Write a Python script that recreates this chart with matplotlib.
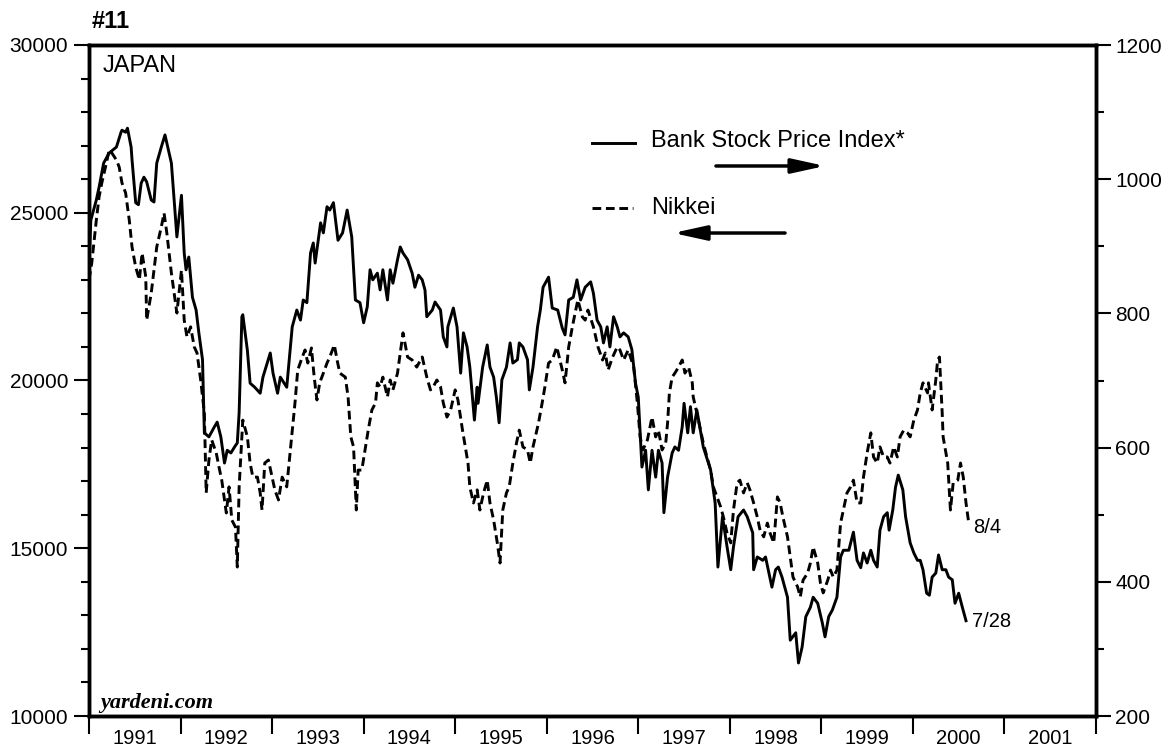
import numpy as np
import matplotlib
matplotlib.use('Agg')
from matplotlib import pyplot as plt
from matplotlib.ticker import MultipleLocator

plt.rcParams['font.family'] = ['Liberation Sans', 'DejaVu Sans']

# Bank Stock Price Index (right axis), decimal years
bank_t = [1991.00, 1991.02, 1991.08, 1991.11, 1991.16, 1991.22, 1991.30, 1991.35, 1991.36, 1991.40, 1991.42, 1991.46, 1991.47, 1991.51,
          1991.54, 1991.57, 1991.60, 1991.63, 1991.68, 1991.71, 1991.74, 1991.79, 1991.83, 1991.85, 1991.90, 1991.93, 1991.96,
          1992.01, 1992.04, 1992.06, 1992.09, 1992.13, 1992.17, 1992.20, 1992.24, 1992.26, 1992.31, 1992.37, 1992.40, 1992.44, 1992.48,
          1992.51, 1992.55, 1992.59, 1992.62, 1992.64, 1992.67, 1992.68, 1992.73, 1992.76, 1992.81, 1992.87, 1992.90, 1992.98,
          1993.01, 1993.06, 1993.09, 1993.16, 1993.22, 1993.27, 1993.31, 1993.34, 1993.38, 1993.42, 1993.45, 1993.47, 1993.53, 1993.56,
          1993.60, 1993.63, 1993.67, 1993.72, 1993.77, 1993.82, 1993.87, 1993.91, 1993.96, 1994.00,
          1994.04, 1994.07, 1994.10, 1994.15, 1994.18, 1994.21, 1994.26, 1994.29, 1994.32, 1994.37, 1994.40, 1994.43, 1994.48, 1994.53,
          1994.56, 1994.60, 1994.64, 1994.67, 1994.69, 1994.75, 1994.78, 1994.84, 1994.87, 1994.91, 1994.92, 1994.98,
          1995.02, 1995.06, 1995.09, 1995.13, 1995.16, 1995.21, 1995.24, 1995.25, 1995.30, 1995.35, 1995.38, 1995.42, 1995.45, 1995.48,
          1995.51, 1995.56, 1995.60, 1995.63, 1995.68, 1995.70, 1995.74, 1995.79, 1995.81, 1995.85, 1995.90, 1995.93, 1995.96,
          1996.02, 1996.06, 1996.12, 1996.17, 1996.20, 1996.24, 1996.29, 1996.33, 1996.37, 1996.42, 1996.48, 1996.51, 1996.55, 1996.59,
          1996.62, 1996.66, 1996.69, 1996.73, 1996.77, 1996.80, 1996.84, 1996.89, 1996.93, 1996.97,
          1997.00, 1997.04, 1997.08, 1997.11, 1997.15, 1997.19, 1997.22, 1997.26, 1997.28, 1997.32, 1997.37, 1997.40, 1997.44, 1997.48,
          1997.50, 1997.54, 1997.57, 1997.60, 1997.64, 1997.71, 1997.79, 1997.84, 1997.87, 1997.92, 1997.97,
          1998.01, 1998.04, 1998.09, 1998.15, 1998.19, 1998.25, 1998.26, 1998.30, 1998.36, 1998.39, 1998.42, 1998.46, 1998.50, 1998.53,
          1998.57, 1998.63, 1998.66, 1998.72, 1998.75, 1998.79, 1998.83, 1998.88, 1998.91, 1998.96,
          1999.01, 1999.04, 1999.08, 1999.12, 1999.17, 1999.21, 1999.24, 1999.30, 1999.35, 1999.39, 1999.43, 1999.46, 1999.50, 1999.54,
          1999.57, 1999.61, 1999.64, 1999.68, 1999.72, 1999.74, 1999.78, 1999.81, 1999.84, 1999.89, 1999.92, 1999.97,
          2000.01, 2000.05, 2000.08, 2000.11, 2000.15, 2000.18, 2000.21, 2000.25, 2000.28, 2000.32, 2000.36, 2000.39, 2000.43, 2000.46,
          2000.50, 2000.54, 2000.58]
bank = [871, 939, 969, 988, 1024, 1039, 1048, 1070, 1073, 1070, 1076, 1048, 1029, 965,
        962, 994, 1003, 996, 969, 966, 1024, 1048, 1066, 1054, 1024, 969, 914,
        976, 890, 865, 884, 824, 805, 771, 731, 622, 616, 631, 638, 616, 577,
        596, 592, 601, 607, 652, 795, 798, 745, 696, 690, 681, 705, 741,
        711, 681, 705, 690, 780, 805, 790, 820, 816, 890, 905, 875, 935, 920,
        959, 954, 965, 909, 920, 954, 914, 820, 816, 786,
        810, 865, 850, 860, 835, 865, 820, 865, 845, 880, 899, 890, 880, 860,
        839, 857, 850, 835, 795, 805, 817, 805, 765, 750, 780, 808,
        780, 711, 771, 750, 720, 641, 690, 666, 720, 753, 720, 705, 675, 637,
        701, 720, 756, 726, 731, 756, 750, 731, 686, 720, 780, 805, 839,
        854, 808, 805, 778, 768, 820, 824, 850, 820, 839, 847, 830, 790, 780,
        756, 780, 750, 795, 780, 765, 771, 765, 746, 696,
        675, 571, 596, 537, 596, 556, 596, 577, 503, 556, 592, 601, 596, 631,
        666, 622, 661, 622, 656, 601, 567, 517, 422, 497, 452,
        418, 452, 497, 507, 497, 473, 418, 437, 432, 437, 418, 392, 418, 422,
        407, 377, 313, 324, 279, 303, 348, 362, 377, 368,
        339, 318, 348, 358, 377, 437, 447, 447, 474, 432, 421, 443, 428, 447,
        432, 422, 477, 497, 503, 477, 507, 541, 559, 537, 497, 458,
        443, 432, 432, 418, 383, 380, 407, 413, 440, 418, 418, 407, 403, 368,
        383, 362, 342]

# Nikkei (left axis)
nikkei_t = [1991.00, 1991.03, 1991.08, 1991.11, 1991.14, 1991.19, 1991.22, 1991.25, 1991.30, 1991.33, 1991.36, 1991.40, 1991.44, 1991.47,
            1991.51, 1991.55, 1991.58, 1991.62, 1991.63, 1991.68, 1991.71, 1991.74, 1991.79, 1991.82, 1991.85, 1991.90, 1991.93, 1991.96,
            1992.01, 1992.04, 1992.07, 1992.11, 1992.15, 1992.18, 1992.22, 1992.26, 1992.28, 1992.31, 1992.34, 1992.39, 1992.42, 1992.45,
            1992.50, 1992.53, 1992.56, 1992.60, 1992.62, 1992.64, 1992.68, 1992.73, 1992.76, 1992.79, 1992.84, 1992.87, 1992.89, 1992.92, 1992.96,
            1993.00, 1993.03, 1993.07, 1993.11, 1993.16, 1993.20, 1993.23, 1993.25, 1993.28, 1993.33, 1993.36, 1993.39, 1993.43, 1993.46,
            1993.49, 1993.52, 1993.56, 1993.60, 1993.63, 1993.68, 1993.71, 1993.74, 1993.80, 1993.83, 1993.86, 1993.89, 1993.92, 1993.94, 1993.98,
            1994.02, 1994.05, 1994.09, 1994.13, 1994.15, 1994.18, 1994.21, 1994.26, 1994.29, 1994.32, 1994.37, 1994.40, 1994.43, 1994.48,
            1994.53, 1994.58, 1994.64, 1994.69, 1994.73, 1994.76, 1994.80, 1994.84, 1994.87, 1994.91, 1994.95,
            1995.00, 1995.03, 1995.08, 1995.11, 1995.14, 1995.16, 1995.20, 1995.24, 1995.27, 1995.31, 1995.35, 1995.38, 1995.42, 1995.46,
            1995.49, 1995.52, 1995.56, 1995.59, 1995.63, 1995.67, 1995.70, 1995.74, 1995.79, 1995.82, 1995.85, 1995.91, 1995.95, 1995.98,
            1996.02, 1996.06, 1996.11, 1996.17, 1996.20, 1996.24, 1996.28, 1996.31, 1996.34, 1996.39, 1996.42, 1996.45, 1996.51, 1996.56,
            1996.61, 1996.64, 1996.67, 1996.72, 1996.77, 1996.80, 1996.84, 1996.89, 1996.95, 1996.99,
            1997.02, 1997.05, 1997.10, 1997.15, 1997.19, 1997.22, 1997.26, 1997.30, 1997.32, 1997.34, 1997.37, 1997.40, 1997.44, 1997.48,
            1997.51, 1997.55, 1997.59, 1997.60, 1997.64, 1997.68, 1997.71, 1997.75, 1997.79, 1997.82, 1997.86, 1997.90, 1997.93, 1997.97,
            1998.01, 1998.04, 1998.08, 1998.11, 1998.15, 1998.19, 1998.22, 1998.26, 1998.30, 1998.33, 1998.37, 1998.41, 1998.44, 1998.48,
            1998.52, 1998.55, 1998.58, 1998.63, 1998.66, 1998.69, 1998.74, 1998.77, 1998.80, 1998.85, 1998.88, 1998.91, 1998.96, 1998.99,
            1999.02, 1999.07, 1999.10, 1999.13, 1999.17, 1999.21, 1999.24, 1999.28, 1999.32, 1999.35, 1999.39, 1999.43, 1999.46, 1999.50,
            1999.54, 1999.57, 1999.61, 1999.64, 1999.68, 1999.72, 1999.75, 1999.79, 1999.83, 1999.86, 1999.90, 1999.94, 1999.97,
            2000.01, 2000.05, 2000.08, 2000.11, 2000.16, 2000.17, 2000.21, 2000.25, 2000.27, 2000.29, 2000.32, 2000.33, 2000.38, 2000.41,
            2000.44, 2000.49, 2000.52, 2000.55, 2000.58, 2000.61]
nikkei = [23000, 23500, 24780, 25470, 25890, 26480, 26870, 26780, 26570, 26360, 25890, 25590, 24780, 23980,
          23380, 23000, 23800, 23090, 21800, 22610, 23290, 23980, 24580, 24990, 24400, 23200, 22610, 22010,
          23290, 21800, 21300, 21600, 21000, 20820, 20015, 19030, 16650, 17630, 18230, 17840, 17420, 17030,
          16050, 16830, 15840, 15630, 14440, 16830, 18820, 18320, 17540, 17120, 17120, 16650, 16140, 17540, 17630,
          17120, 16740, 16440, 17120, 16830, 17930, 18730, 19330, 20310, 20700, 20910, 20520, 20970, 20100,
          19420, 19930, 20220, 20520, 20700, 21060, 20610, 20220, 20100, 19510, 18320, 18020, 16140, 17330, 17330,
          18020, 18520, 19120, 19330, 19930, 19810, 20100, 19510, 20015, 19720, 20220, 20820, 21420, 20700,
          20610, 20400, 20700, 20100, 19720, 19810, 20015, 19810, 19330, 18910, 19120,
          19720, 19420, 18520, 18020, 17540, 16830, 16350, 16740, 16140, 16650, 17030, 16350, 15840, 15160,
          14560, 16140, 16650, 16830, 17540, 18140, 18520, 18020, 17930, 17540, 18020, 18730, 19330, 19810,
          20520, 20610, 21000, 20310, 19930, 21000, 21600, 22010, 22400, 21890, 21800, 22100, 21600, 21000,
          20610, 20820, 20310, 20700, 21000, 20910, 20610, 20910, 20400, 19330,
          18320, 17930, 18230, 18910, 18320, 18520, 17930, 18140, 18730, 19630, 20100, 20220, 20400, 20610,
          20220, 20400, 19930, 19510, 19030, 18520, 18140, 17720, 17330, 16830, 16530, 16230, 15930, 15450,
          15160, 16140, 16950, 17030, 16650, 16950, 16740, 16350, 15930, 15540, 15340, 15750, 15450, 15160,
          16530, 16350, 15930, 15340, 14740, 14140, 13850, 13550, 14050, 14260, 14560, 15040, 14560, 13960,
          13670, 14050, 14350, 14140, 14350, 15750, 16140, 16650, 16830, 17030, 16350, 16350, 17120, 17840,
          18440, 17720, 17540, 18020, 17720, 17720, 17540, 18020, 17720, 18320, 18520, 18440, 18320,
          18820, 19120, 19630, 19930, 19630, 19930, 19120, 20015, 20610, 20700, 19030, 18320, 17540, 16140,
          16950, 17030, 17540, 17120, 16350, 15750]

years = list(range(1991, 2002))

fig = plt.figure(figsize=(11.67, 7.48), dpi=100)
ax = fig.add_axes([89 / 1167, 1 - 716 / 748, 1007 / 1167, 671 / 748])
ax2 = ax.twinx()

dash = (0, (3, 1.6))
ax.plot(nikkei_t, nikkei, color='black', lw=2.1, linestyle=dash)
ax2.plot(bank_t, bank, color='black', lw=2.1)

ax.set_xlim(1991, 2002)
ax.set_ylim(10000, 30000)
ax2.set_ylim(200, 1200)

ax.set_xticks(range(1991, 2003))
ax.set_xticklabels([])
ax.set_xticks([y + 0.5 for y in years], minor=True)
ax.set_xticklabels([str(y) for y in years], minor=True)
ax.tick_params(axis='x', which='major', length=13, width=1.5, direction='out')
ax.tick_params(axis='x', which='minor', length=0, pad=9, labelsize=14.5)

ax.yaxis.set_major_locator(MultipleLocator(5000))
ax.yaxis.set_minor_locator(MultipleLocator(1000))
ax.tick_params(axis='y', which='major', length=11, width=1.5, labelsize=15, pad=4)
ax.tick_params(axis='y', which='minor', length=5.5, width=1.5)

ax2.yaxis.set_major_locator(MultipleLocator(200))
ax2.yaxis.set_minor_locator(MultipleLocator(100))
ax2.tick_params(axis='y', which='major', length=11, width=1.5, labelsize=15, pad=3)
ax2.tick_params(axis='y', which='minor', length=5.5, width=1.5)

for a in (ax, ax2):
    for s in a.spines.values():
        s.set_linewidth(2.5)

fig.text(92 / 1167, 1 - 21 / 748, '#11', fontsize=17, fontweight='bold', va='center', ha='left')
ax.text(0.014, 0.969, 'JAPAN', fontsize=17, va='center', transform=ax.transAxes)
ax.text(0.011, 0.02, 'yardeni.com', fontsize=16, family='Liberation Serif', fontweight='bold',
        style='italic', va='center', transform=ax.transAxes)

# legend drawn by hand with arrows
ax.plot([0.4995, 0.542], [0.854, 0.854], color='black', lw=2.1, transform=ax.transAxes)
ax.text(0.558, 0.857, 'Bank Stock Price Index*', fontsize=17, va='center', transform=ax.transAxes)
ax.annotate('', xy=(0.7309, 0.8197), xytext=(0.6226, 0.8197), xycoords='axes fraction',
            arrowprops=dict(arrowstyle='-|>,head_length=1.0,head_width=0.22', lw=2.5, color='black',
                            mutation_scale=20, shrinkA=0, shrinkB=0))
ax.plot([0.4995, 0.540], [0.757, 0.757], color='black', lw=2.1, linestyle=dash, transform=ax.transAxes)
ax.text(0.558, 0.757, 'Nikkei', fontsize=17, va='center', transform=ax.transAxes)
ax.annotate('', xy=(0.580, 0.7198), xytext=(0.6912, 0.7198), xycoords='axes fraction',
            arrowprops=dict(arrowstyle='-|>,head_length=1.0,head_width=0.22', lw=2.5, color='black',
                            mutation_scale=20, shrinkA=0, shrinkB=0))

ax.annotate('8/4', xy=(nikkei_t[-1], nikkei[-1]), xytext=(3.5, -3.5), textcoords='offset points',
            fontsize=14.5, va='center')
ax2.annotate('7/28', xy=(bank_t[-1], bank[-1]), xytext=(4, -0.5), textcoords='offset points',
             fontsize=14.5, va='center')

plt.savefig('out.png', dpi=100)
